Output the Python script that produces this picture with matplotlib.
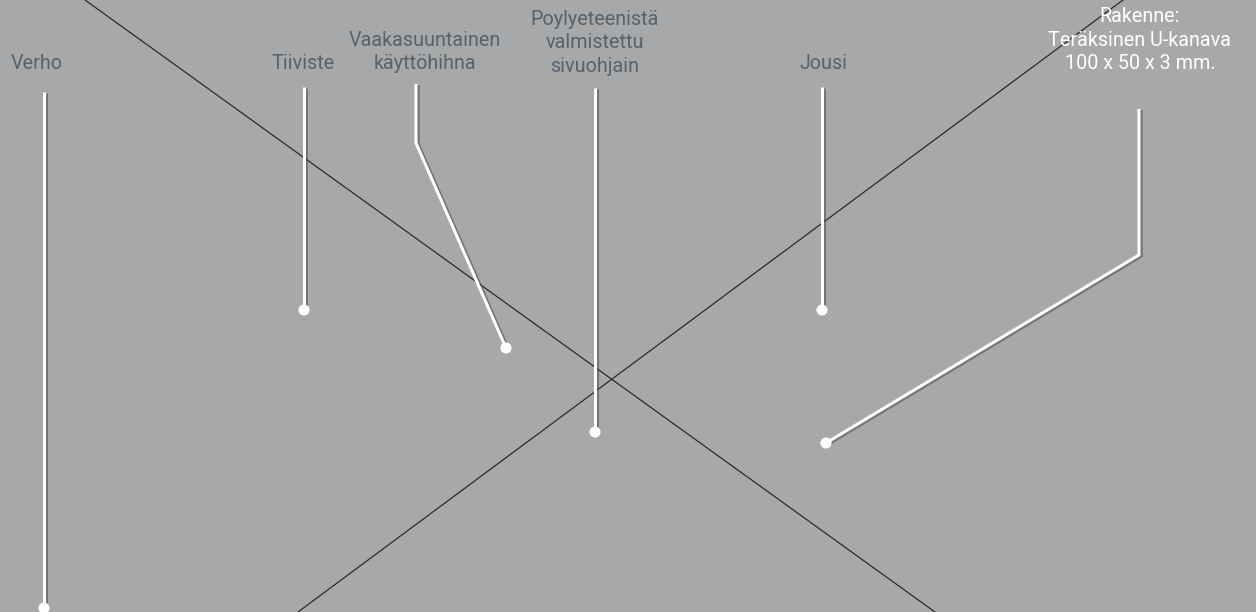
import matplotlib.pyplot as plt
import matplotlib.patheffects as pe

# kuvan koko pikseleinä
W, H = 1256, 612

# taustan ristiviivat (x0, y0, x1, y1)
cross_lines = [(85, 0, 935, 612), (298, 612, 1123, 0)]

# selitteet
labels = ["Verho", "Tiiviste", "Vaakasuuntainen\nkäyttöhihna",
          "Poylyeteenistä\nvalmistettu\nsivuohjain", "Jousi",
          "Rakenne:\nTeräksinen U-kanava\n100 x 50 x 3 mm."]
label_x = [37, 303, 425, 595, 823, 1140]
label_y = [69, 69, 69, 72, 69, 69]
label_color = ["#55636d"] * 5 + ["#ffffff"]

# viivojen reitit, viimeinen piste = pallo
paths_x = [[44, 44], [304, 304], [416, 416, 506], [595, 595], [822, 822], [1139, 1139, 826]]
paths_y = [[92, 608], [87, 310], [84, 143, 348], [88, 432], [87, 310], [109, 255, 443]]

fig = plt.figure(figsize=(W / 100, H / 100), dpi=100)
fig.patch.set_facecolor("#a7a8aa")
ax = fig.add_axes([0, 0, 1, 1])
ax.set_facecolor("#a7a8aa")
ax.set_xlim(0, W)
ax.set_ylim(H, 0)
ax.axis("off")

for x0, y0, x1, y1 in cross_lines:
    ax.plot([x0, x1], [y0, y1], color="#2b2b2d", lw=0.9)

shadow = [pe.SimpleLineShadow(offset=(1.6, -0.8), shadow_color="#4a4a4c", alpha=0.55),
          pe.Normal()]

for xs, ys in zip(paths_x, paths_y):
    ax.plot(xs, ys, color="white", lw=2.2, solid_capstyle="butt",
            solid_joinstyle="miter", path_effects=shadow)
    ax.plot(xs[-1], ys[-1], "o", color="white", ms=8, mew=0, path_effects=shadow)

for txt, x, y, c in zip(labels, label_x, label_y, label_color):
    ax.text(x, y, txt, ha="center", va="baseline", multialignment="center",
            color=c, fontsize=14.2, family="Roboto", linespacing=1.3)

fig.savefig("out.png", dpi=100, facecolor=fig.get_facecolor())
